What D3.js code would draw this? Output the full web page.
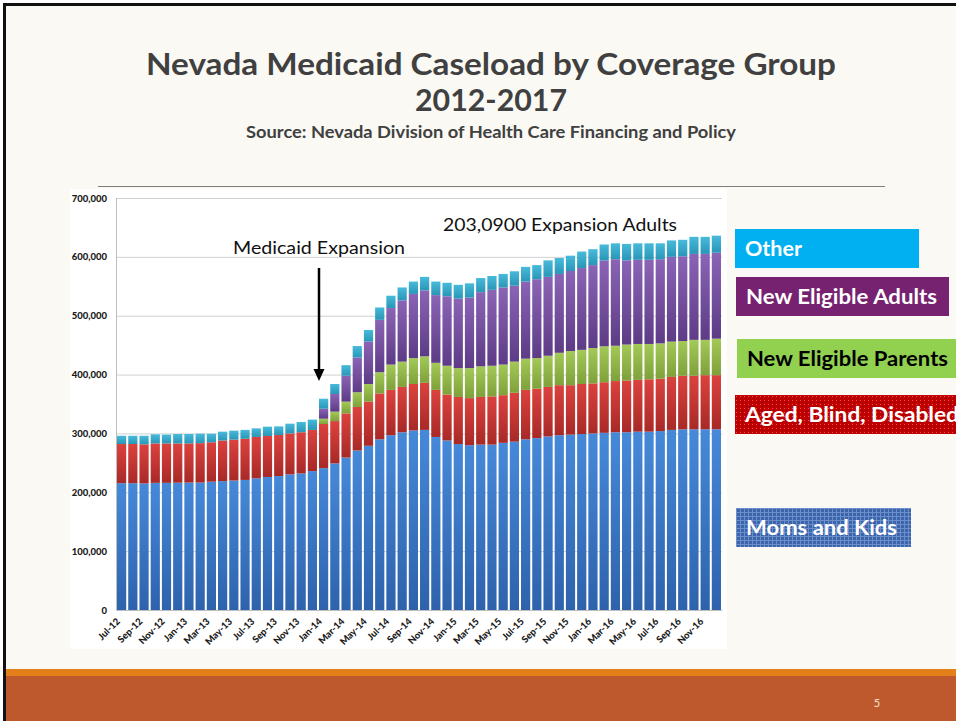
<!DOCTYPE html>
<html>
<head>
<meta charset="utf-8">
<script src="https://cdn.jsdelivr.net/npm/d3@7"></script>
<style>
  body { margin: 0; background: #fff; }
  svg { display: block; }
  text { font-family: Lato, "Open Sans", sans-serif; }
</style>
</head>
<body>
<script>
// monthly caseload, Jul-12 .. Dec-16
var months = ["Jul-12","Aug-12","Sep-12","Oct-12","Nov-12","Dec-12",
  "Jan-13","Feb-13","Mar-13","Apr-13","May-13","Jun-13","Jul-13","Aug-13","Sep-13","Oct-13","Nov-13","Dec-13",
  "Jan-14","Feb-14","Mar-14","Apr-14","May-14","Jun-14","Jul-14","Aug-14","Sep-14","Oct-14","Nov-14","Dec-14",
  "Jan-15","Feb-15","Mar-15","Apr-15","May-15","Jun-15","Jul-15","Aug-15","Sep-15","Oct-15","Nov-15","Dec-15",
  "Jan-16","Feb-16","Mar-16","Apr-16","May-16","Jun-16","Jul-16","Aug-16","Sep-16","Oct-16","Nov-16","Dec-16"];

var momsKids = [215500,215500,215000,216000,216000,216300,216500,216500,218000,219000,220000,221000,
  223700,226000,227600,230500,232000,236000,241000,249000,259000,271000,279000,
  290000,297000,302000,305000,306000,294000,288000,282000,280000,281000,281000,284000,286000,290000,
  292000,295000,297000,298000,299000,300000,301000,302000,302000,303000,303000,304000,306000,307000,307000,307000,307000];

var agedBlindDisabled = [66500,66500,66500,67000,67000,66700,66500,67000,67000,69000,69500,70000,
  70300,69600,69700,69500,70000,70000,75000,72000,75000,74000,75000,
  78000,77000,77000,79000,80000,80000,78000,80000,80000,81000,82000,81000,83000,84000,
  84000,84000,85000,84000,85000,85000,86000,87000,88000,88000,89000,89000,90000,91000,91000,92000,92000];

var newParents = [0,0,0,0,0,0,0,0,0,0,0,0,0,0,0,0,0,0,
  9000,16000,20000,25000,30000,
  36000,43000,43000,44000,45000,46000,49000,49000,51000,52000,52000,52000,53000,53000,
  52000,53000,55000,58000,58000,60000,61000,60000,61000,61000,60000,60000,60000,59000,61000,60000,62000];

var newAdults = [0,0,0,0,0,0,0,0,0,0,0,0,0,0,0,0,0,0,
  17000,30000,44000,59000,72000,
  89000,96000,104000,109000,112000,115000,118000,118000,120000,126000,129000,131000,129000,131000,
  134000,134000,134000,136000,139000,141000,146000,147000,143000,143000,143000,143000,144000,144000,146000,146000,146000];

var other = [14000,14000,14500,15500,15000,16000,16000,16000,14500,15000,15200,15000,
  14600,15900,14700,16600,17400,17500,17000,17000,18000,19500,19700,
  21000,21000,22000,21000,23000,23000,23000,23500,24000,24000,23500,23000,24500,25000,
  24000,28000,27000,26000,28000,27000,27000,27000,28000,28000,28000,27000,28000,28000,29000,29000,29000];

var yTicks = [0,100000,200000,300000,400000,500000,600000,700000];

var seriesKeys = ["momsKids","agedBlindDisabled","newParents","newAdults","other"];
var seriesColors = {
  momsKids: ["#4689D9", "#2E62AC"],
  agedBlindDisabled: ["#DB423E", "#A82927"],
  newParents: ["#A3C957", "#7EA13A"],
  newAdults: ["#8B64B5", "#5D3B86"],
  other: ["#47BADA", "#2A96B8"]
};

var legendItems = [
  {label: "Other", fill: "#00B0F0", color: "#fff", x: 735, y: 229, w: 184, len: 57},
  {label: "New Eligible Adults", fill: "#772270", color: "#fff", x: 736, y: 277, w: 213, len: 191},
  {label: "New Eligible Parents", fill: "#92D050", color: "#000", x: 737, y: 339, w: 219, len: 201},
  {label: "Aged, Blind, Disabled", fill: "url(#redDots)", color: "#fff", x: 735, y: 395, w: 221, len: 214},
  {label: "Moms and Kids", fill: "url(#blueGrid)", color: "#fff", x: 736, y: 508, w: 175, len: 151}
];

var rows = months.map(function(m, i) {
  return {month: m, momsKids: momsKids[i], agedBlindDisabled: agedBlindDisabled[i],
    newParents: newParents[i], newAdults: newAdults[i], other: other[i]};
});

var width = 956, height = 721;

var svg = d3.select('body')
        .append('svg')
        .attr('width', width)
        .attr('height', height);

var defs = svg.append('defs');

seriesKeys.forEach(function(k) {
  var g = defs.append('linearGradient')
        .attr('id', 'grad-' + k)
        .attr('x1', 0).attr('y1', 0).attr('x2', 0).attr('y2', 1);
  g.append('stop').attr('offset', '0%').attr('stop-color', seriesColors[k][0]);
  g.append('stop').attr('offset', '100%').attr('stop-color', seriesColors[k][1]);
});

var red = defs.append('pattern').attr('id', 'redDots')
        .attr('width', 4).attr('height', 4).attr('patternUnits', 'userSpaceOnUse');
red.append('rect').attr('width', 4).attr('height', 4).attr('fill', '#C00000');
red.append('rect').attr('width', 1).attr('height', 1).attr('fill', '#E85050');
red.append('rect').attr('x', 2).attr('y', 2).attr('width', 1).attr('height', 1).attr('fill', '#8A0000');

var blue = defs.append('pattern').attr('id', 'blueGrid')
        .attr('width', 4).attr('height', 4).attr('patternUnits', 'userSpaceOnUse');
blue.append('rect').attr('width', 4).attr('height', 4).attr('fill', '#3B64AB');
blue.append('rect').attr('width', 4).attr('height', 1).attr('fill', '#6C8FCB');
blue.append('rect').attr('width', 1).attr('height', 4).attr('fill', '#6C8FCB');

// slide background
svg.append('rect').attr('width', width).attr('height', height).attr('fill', '#fff');
svg.append('rect').attr('x', 4).attr('y', 4).attr('width', width - 4).attr('height', 665).attr('fill', '#FAF9F4');
svg.append('rect').attr('x', 4).attr('y', 669).attr('width', width - 4).attr('height', 7).attr('fill', '#E3801A');
svg.append('rect').attr('x', 4).attr('y', 676).attr('width', width - 4).attr('height', 45).attr('fill', '#BE582D');
svg.append('rect').attr('x', 3).attr('y', 3).attr('width', width - 3).attr('height', 3).attr('fill', '#111');
svg.append('rect').attr('x', 3).attr('y', 3).attr('width', 3).attr('height', height - 3).attr('fill', '#111');

svg.append('text').attr('x', 877).attr('y', 707).attr('text-anchor', 'middle')
        .attr('font-size', 11).attr('fill', '#F6E3D6').text('5');

// titles
svg.append('text').attr('x', 491).attr('y', 75).attr('text-anchor', 'middle')
        .attr('font-size', 30).attr('font-weight', 'bold').attr('fill', '#404040')
        .attr('textLength', 690).attr('lengthAdjust', 'spacingAndGlyphs')
        .text('Nevada Medicaid Caseload by Coverage Group');
svg.append('text').attr('x', 491).attr('y', 111).attr('text-anchor', 'middle')
        .attr('font-size', 30).attr('font-weight', 'bold').attr('fill', '#404040')
        .attr('textLength', 152).attr('lengthAdjust', 'spacingAndGlyphs')
        .text('2012-2017');
svg.append('text').attr('x', 491).attr('y', 138).attr('text-anchor', 'middle')
        .attr('font-size', 17).attr('font-weight', 'bold').attr('fill', '#404040')
        .attr('textLength', 490).attr('lengthAdjust', 'spacingAndGlyphs')
        .text('Source: Nevada Division of Health Care Financing and Policy');

svg.append('line').attr('x1', 98).attr('x2', 885).attr('y1', 186.5).attr('y2', 186.5)
        .attr('stroke', '#7F7F7F').attr('stroke-width', 1);

// chart picture
svg.append('rect').attr('x', 70).attr('y', 189).attr('width', 657).attr('height', 460).attr('fill', '#fff');

var x = d3.scaleBand()
        .domain(months)
        .range([116, 722])
        .paddingInner(0.18)
        .paddingOuter(0.09);

var y = d3.scaleLinear()
        .domain([0, 700000])
        .range([610, 198]);

svg.append('g')
        .attr('transform', 'translate(116,0)')
        .call(d3.axisLeft(y).tickValues(yTicks).tickSize(-606).tickFormat(''))
        .call(function(g) {
            g.select('.domain').remove();
            g.selectAll('line').attr('stroke', '#D0D0D0');
        });

svg.append('line').attr('x1', 116.5).attr('x2', 116.5).attr('y1', 198).attr('y2', 610)
        .attr('stroke', '#BDBDBD');

var stack = d3.stack().keys(seriesKeys);
var layers = stack(rows);

svg.selectAll('g.layer')
        .data(layers)
        .enter()
        .append('g')
        .attr('class', 'layer')
        .attr('fill', function(d) { return 'url(#grad-' + d.key + ')'; })
        .selectAll('rect')
        .data(function(d) { return d.filter(function(p) { return p[1] > p[0]; }); })
        .enter()
        .append('rect')
        .attr('x', function(d) { return x(d.data.month); })
        .attr('width', x.bandwidth())
        .attr('y', function(d) { return y(d[1]); })
        .attr('height', function(d) { return y(d[0]) - y(d[1]); });

svg.append('g')
        .attr('transform', 'translate(107,0)')
        .call(d3.axisLeft(y).tickValues(yTicks).tickSize(0).tickPadding(0).tickFormat(d3.format(',')))
        .call(function(g) {
            g.select('.domain').remove();
            g.selectAll('text')
                .attr('font-family', 'Lato, sans-serif')
                .attr('font-size', 9.5)
                .attr('font-weight', 900)
                .attr('fill', '#1a1a1a');
        });

svg.append('g')
        .attr('transform', 'translate(0,610)')
        .call(d3.axisBottom(x).tickValues(months.filter(function(d, i) { return i % 2 === 0; })).tickSize(0))
        .call(function(g) {
            g.select('.domain').attr('stroke', '#BDBDBD');
            g.selectAll('text')
                .attr('font-family', 'Lato, sans-serif')
                .attr('font-size', 9.5)
                .attr('font-weight', 900)
                .attr('fill', '#1a1a1a')
                .attr('text-anchor', 'end')
                .attr('x', 0).attr('y', 0).attr('dy', 0)
                .attr('transform', 'translate(-1,12) rotate(-45)');
        });

// annotations
svg.append('text').attr('x', 233).attr('y', 254)
        .attr('font-size', 18).attr('fill', '#111')
        .attr('textLength', 172).attr('lengthAdjust', 'spacingAndGlyphs')
        .text('Medicaid Expansion');
svg.append('line').attr('x1', 319).attr('x2', 319).attr('y1', 268).attr('y2', 370)
        .attr('stroke', '#000').attr('stroke-width', 2.5);
svg.append('path').attr('d', 'M313.5,369 L324.5,369 L319,381 Z').attr('fill', '#000');

svg.append('text').attr('x', 443).attr('y', 231)
        .attr('font-size', 18).attr('fill', '#111')
        .attr('textLength', 234).attr('lengthAdjust', 'spacingAndGlyphs')
        .text('203,0900 Expansion Adults');

// legend boxes
var leg = svg.selectAll('g.leg')
        .data(legendItems)
        .enter()
        .append('g')
        .attr('class', 'leg');

leg.append('rect')
        .attr('x', function(d) { return d.x; })
        .attr('y', function(d) { return d.y; })
        .attr('width', function(d) { return d.w; })
        .attr('height', 39)
        .attr('fill', function(d) { return d.fill; });

leg.append('text')
        .attr('x', function(d) { return d.x + 10; })
        .attr('y', function(d) { return d.y + 27; })
        .attr('font-size', 20)
        .attr('font-weight', 'bold')
        .attr('fill', function(d) { return d.color; })
        .attr('textLength', function(d) { return d.len; })
        .attr('lengthAdjust', 'spacingAndGlyphs')
        .text(function(d) { return d.label; });
</script>
</body>
</html>
